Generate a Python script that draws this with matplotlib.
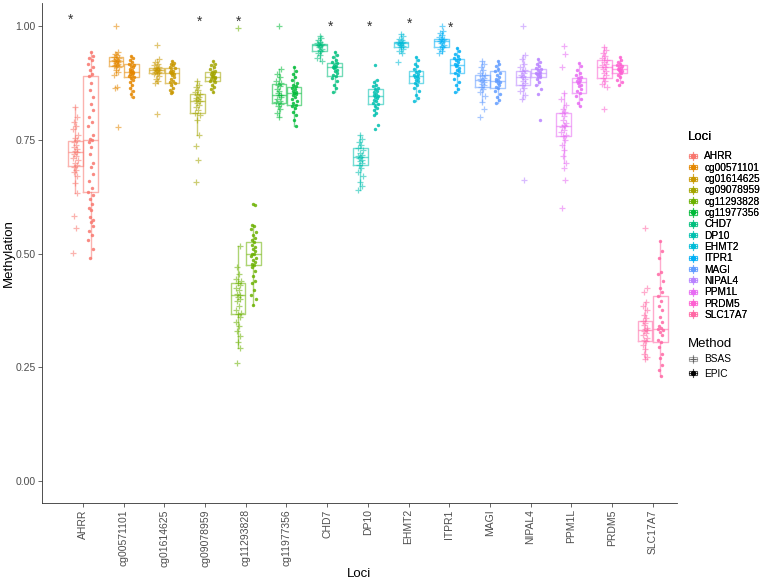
import numpy as np
import matplotlib
matplotlib.use("Agg")
import matplotlib.pyplot as plt
from matplotlib.legend_handler import HandlerBase
from matplotlib.lines import Line2D
from matplotlib.patches import Rectangle

plt.rcParams['font.family'] = ['Liberation Sans', 'DejaVu Sans']

# -------------------------------
# Dati
# -------------------------------
loci = ['AHRR', 'cg00571101', 'cg01614625', 'cg09078959', 'cg11293828',
        'cg11977356', 'CHD7', 'DP10', 'EHMT2', 'ITPR1', 'MAGI', 'NIPAL4',
        'PPM1L', 'PRDM5', 'SLC17A7']
methods = ['BSAS', 'EPIC']
colori = ['#F8766D', '#E58700', '#C99800', '#A3A500', '#6BB100', '#00BA38',
          '#00BF7D', '#00C0AF', '#00BCD8', '#00B0F6', '#619CFF', '#B983FF',
          '#E76BF3', '#FD61D1', '#FF67A4']

# box stats (q1, mediana, q3, baffo basso, baffo alto) per locus
bsas_q1 = [0.693, 0.913, 0.897, 0.809, 0.367, 0.831, 0.946, 0.695, 0.954, 0.954, 0.867, 0.871, 0.759, 0.886, 0.308]
bsas_med = [0.724, 0.924, 0.904, 0.836, 0.409, 0.849, 0.959, 0.713, 0.963, 0.968, 0.882, 0.888, 0.781, 0.910, 0.332]
bsas_q3 = [0.748, 0.932, 0.908, 0.851, 0.435, 0.873, 0.961, 0.732, 0.965, 0.972, 0.893, 0.902, 0.809, 0.926, 0.352]
bsas_lo = [0.633, 0.893, 0.875, 0.761, 0.292, 0.800, 0.924, 0.640, 0.941, 0.941, 0.834, 0.840, 0.700, 0.867, 0.268]
bsas_hi = [0.823, 0.943, 0.928, 0.880, 0.517, 0.906, 0.979, 0.761, 0.983, 0.990, 0.924, 0.937, 0.853, 0.955, 0.394]

epic_q1 = [0.636, 0.888, 0.875, 0.880, 0.475, 0.827, 0.891, 0.829, 0.875, 0.897, 0.864, 0.888, 0.853, 0.897, 0.306]
epic_med = [0.750, 0.900, 0.897, 0.888, 0.499, 0.853, 0.910, 0.847, 0.891, 0.915, 0.880, 0.897, 0.877, 0.906, 0.334]
epic_q3 = [0.891, 0.917, 0.908, 0.899, 0.526, 0.867, 0.919, 0.862, 0.902, 0.928, 0.902, 0.906, 0.886, 0.915, 0.407]
epic_lo = [0.490, 0.844, 0.853, 0.856, 0.387, 0.781, 0.855, 0.805, 0.836, 0.856, 0.831, 0.871, 0.825, 0.871, 0.231]
epic_hi = [0.943, 0.935, 0.924, 0.924, 0.563, 0.910, 0.943, 0.882, 0.932, 0.952, 0.924, 0.928, 0.919, 0.932, 0.528]

# valori dei singoli campioni
bsas_punti = [
    [0.823, 0.80, 0.79, 0.78, 0.775, 0.76, 0.755, 0.75, 0.745, 0.74, 0.735, 0.73, 0.725, 0.724, 0.72,
     0.715, 0.71, 0.705, 0.70, 0.695, 0.69, 0.685, 0.68, 0.67, 0.655, 0.633, 0.583, 0.556, 0.501],
    [1.0, 0.943, 0.94, 0.936, 0.932, 0.93, 0.928, 0.926, 0.925, 0.924, 0.923, 0.922, 0.92, 0.918,
     0.916, 0.914, 0.913, 0.91, 0.905, 0.90, 0.893, 0.867, 0.864, 0.779],
    [0.959, 0.928, 0.922, 0.918, 0.914, 0.91, 0.908, 0.907, 0.906, 0.905, 0.904, 0.903, 0.902, 0.90,
     0.899, 0.897, 0.895, 0.89, 0.885, 0.88, 0.875, 0.807],
    [0.88, 0.872, 0.866, 0.86, 0.855, 0.851, 0.848, 0.845, 0.842, 0.84, 0.837, 0.835, 0.832, 0.828,
     0.822, 0.816, 0.81, 0.805, 0.795, 0.761, 0.737, 0.706, 0.658],
    [0.996, 0.517, 0.47, 0.455, 0.445, 0.44, 0.435, 0.43, 0.425, 0.42, 0.412, 0.41, 0.405, 0.40,
     0.395, 0.385, 0.375, 0.37, 0.367, 0.36, 0.35, 0.34, 0.33, 0.318, 0.305, 0.292, 0.259],
    [1.0, 0.906, 0.895, 0.888, 0.88, 0.875, 0.872, 0.868, 0.862, 0.858, 0.853, 0.85, 0.848, 0.845,
     0.84, 0.836, 0.833, 0.83, 0.825, 0.818, 0.81, 0.80],
    [0.979, 0.975, 0.97, 0.966, 0.963, 0.961, 0.96, 0.959, 0.958, 0.956, 0.954, 0.951, 0.948, 0.946,
     0.942, 0.937, 0.93, 0.924],
    [0.761, 0.752, 0.745, 0.738, 0.732, 0.728, 0.722, 0.718, 0.715, 0.713, 0.71, 0.707, 0.703, 0.70,
     0.695, 0.688, 0.68, 0.67, 0.658, 0.648, 0.64],
    [0.983, 0.978, 0.973, 0.969, 0.966, 0.965, 0.964, 0.963, 0.962, 0.96, 0.958, 0.956, 0.954, 0.95,
     0.946, 0.941, 0.922],
    [1.0, 0.99, 0.985, 0.98, 0.976, 0.973, 0.972, 0.97, 0.968, 0.966, 0.963, 0.96, 0.957, 0.954,
     0.95, 0.946, 0.941],
    [0.924, 0.918, 0.91, 0.903, 0.898, 0.893, 0.89, 0.887, 0.884, 0.882, 0.88, 0.877, 0.873, 0.87,
     0.867, 0.862, 0.855, 0.846, 0.834, 0.818, 0.80],
    [1.0, 0.937, 0.928, 0.918, 0.91, 0.905, 0.902, 0.898, 0.894, 0.89, 0.888, 0.885, 0.88, 0.876,
     0.871, 0.865, 0.857, 0.848, 0.84, 0.662],
    [0.957, 0.939, 0.91, 0.853, 0.84, 0.828, 0.818, 0.812, 0.809, 0.802, 0.795, 0.788, 0.783, 0.781,
     0.778, 0.772, 0.768, 0.762, 0.759, 0.75, 0.74, 0.728, 0.715, 0.70, 0.688, 0.662, 0.60],
    [0.955, 0.948, 0.942, 0.935, 0.93, 0.926, 0.922, 0.918, 0.914, 0.91, 0.907, 0.902, 0.897, 0.892,
     0.886, 0.88, 0.873, 0.867, 0.818],
    [0.556, 0.424, 0.416, 0.394, 0.385, 0.375, 0.365, 0.358, 0.352, 0.347, 0.342, 0.337, 0.334, 0.332,
     0.33, 0.326, 0.32, 0.315, 0.31, 0.308, 0.3, 0.29, 0.28, 0.272, 0.268],
]

epic_punti = [
    [0.943, 0.935, 0.93, 0.925, 0.918, 0.91, 0.905, 0.895, 0.89, 0.875, 0.86, 0.845, 0.83, 0.815, 0.80,
     0.79, 0.78, 0.76, 0.752, 0.75, 0.745, 0.735, 0.72, 0.70, 0.69, 0.675, 0.66, 0.645, 0.636, 0.63,
     0.62, 0.61, 0.60, 0.595, 0.58, 0.575, 0.57, 0.56, 0.55, 0.54, 0.53, 0.51, 0.49],
    [0.935, 0.93, 0.926, 0.922, 0.918, 0.916, 0.913, 0.91, 0.906, 0.903, 0.901, 0.90, 0.899, 0.897,
     0.895, 0.893, 0.89, 0.888, 0.886, 0.882, 0.878, 0.872, 0.865, 0.858, 0.851, 0.844],
    [0.924, 0.92, 0.917, 0.914, 0.91, 0.908, 0.905, 0.902, 0.90, 0.898, 0.897, 0.895, 0.892, 0.888,
     0.884, 0.88, 0.877, 0.875, 0.87, 0.865, 0.86, 0.856, 0.853],
    [0.924, 0.918, 0.914, 0.91, 0.906, 0.902, 0.899, 0.897, 0.895, 0.893, 0.891, 0.889, 0.888, 0.886,
     0.884, 0.882, 0.88, 0.877, 0.872, 0.867, 0.862, 0.856],
    [0.609, 0.606, 0.563, 0.56, 0.555, 0.548, 0.54, 0.535, 0.53, 0.526, 0.52, 0.515, 0.51, 0.505,
     0.50, 0.499, 0.495, 0.49, 0.487, 0.482, 0.478, 0.475, 0.47, 0.462, 0.45, 0.44, 0.435, 0.42,
     0.41, 0.40, 0.387],
    [0.91, 0.902, 0.895, 0.888, 0.882, 0.876, 0.872, 0.868, 0.865, 0.862, 0.858, 0.855, 0.853, 0.851,
     0.848, 0.845, 0.84, 0.836, 0.832, 0.828, 0.825, 0.82, 0.812, 0.805, 0.795, 0.781],
    [0.943, 0.938, 0.932, 0.926, 0.922, 0.919, 0.916, 0.913, 0.911, 0.91, 0.908, 0.905, 0.902, 0.898,
     0.894, 0.891, 0.886, 0.88, 0.872, 0.865, 0.855],
    [0.915, 0.882, 0.877, 0.872, 0.868, 0.864, 0.862, 0.858, 0.855, 0.852, 0.849, 0.847, 0.845, 0.842,
     0.838, 0.835, 0.831, 0.829, 0.825, 0.82, 0.815, 0.81, 0.805, 0.783, 0.774],
    [0.932, 0.925, 0.918, 0.912, 0.906, 0.902, 0.899, 0.896, 0.893, 0.891, 0.889, 0.886, 0.883, 0.879,
     0.875, 0.87, 0.864, 0.857, 0.85, 0.843, 0.836],
    [0.952, 0.945, 0.94, 0.935, 0.93, 0.928, 0.925, 0.921, 0.918, 0.915, 0.912, 0.909, 0.905, 0.901,
     0.897, 0.892, 0.885, 0.878, 0.87, 0.863, 0.856],
    [0.924, 0.918, 0.912, 0.906, 0.902, 0.898, 0.893, 0.888, 0.884, 0.881, 0.88, 0.878, 0.875, 0.871,
     0.867, 0.864, 0.858, 0.852, 0.845, 0.838, 0.831],
    [0.928, 0.922, 0.917, 0.912, 0.908, 0.906, 0.903, 0.90, 0.898, 0.897, 0.895, 0.893, 0.89, 0.888,
     0.884, 0.878, 0.871, 0.862, 0.851, 0.794],
    [0.919, 0.912, 0.905, 0.898, 0.892, 0.888, 0.886, 0.883, 0.88, 0.877, 0.875, 0.872, 0.868, 0.863,
     0.858, 0.853, 0.847, 0.84, 0.832, 0.825],
    [0.932, 0.927, 0.922, 0.918, 0.915, 0.913, 0.91, 0.908, 0.906, 0.905, 0.903, 0.901, 0.899, 0.897,
     0.893, 0.888, 0.882, 0.877, 0.871],
    [0.528, 0.505, 0.49, 0.46, 0.455, 0.44, 0.425, 0.415, 0.407, 0.395, 0.385, 0.375, 0.36, 0.35,
     0.34, 0.336, 0.334, 0.332, 0.328, 0.32, 0.31, 0.306, 0.295, 0.28, 0.27, 0.255, 0.245, 0.231],
]

# asterischi di significativita' (posizione x in unita' di categoria, y in metilazione)
stelle_x = [0.70, 3.85, 4.81, 7.09, 8.05, 9.03, 10.04]
stelle_y = [1.014, 1.011, 1.011, 1.000, 0.998, 1.005, 0.996]

# -------------------------------
# Plot
# -------------------------------
W, H = 769, 581
fig = plt.figure(figsize=(W / 100, H / 100), dpi=100)
ax = fig.add_axes([42 / W, 1 - 503 / H, (677 - 42) / W, 500 / H])

jitter = [0.0, 0.045, -0.035, 0.02, -0.06, 0.06, -0.015, 0.035, -0.045, 0.01, -0.025, 0.05]
dodge = 0.1875
larghezza = 0.36

for i, locus in enumerate(loci):
    c = colori[i]
    x0 = i + 1
    gruppi = [
        (x0 - dodge, bsas_q1[i], bsas_med[i], bsas_q3[i], bsas_lo[i], bsas_hi[i], bsas_punti[i], 'BSAS'),
        (x0 + dodge, epic_q1[i], epic_med[i], epic_q3[i], epic_lo[i], epic_hi[i], epic_punti[i], 'EPIC'),
    ]
    for pos, q1, med, q3, lo, hi, punti, metodo in gruppi:
        stats = [dict(med=med, q1=q1, q3=q3, whislo=lo, whishi=hi, fliers=[])]
        lp = dict(color=c, alpha=0.55, lw=1.0)
        ax.bxp(stats, positions=[pos], widths=larghezza, showfliers=False, showcaps=False,
               boxprops=lp, whiskerprops=lp, medianprops=lp, manage_ticks=False)
        xs = [pos + jitter[k % len(jitter)] for k in range(len(punti))]
        if metodo == 'BSAS':
            ax.scatter(xs, punti, marker='+', s=14, linewidths=0.9, color=c, alpha=0.55, zorder=3)
        else:
            ax.scatter(xs, punti, marker='o', s=6, linewidths=0, color=c, alpha=0.85, zorder=3)

for sx, sy in zip(stelle_x, stelle_y):
    ax.text(sx, sy, '*', ha='center', va='center', fontsize=10, color='#333333')

ax.set_xlim(-0.01, 15.6)
ax.set_ylim(-0.0484, 1.0513)
ax.set_xticks(range(1, len(loci) + 1))
ax.set_xticklabels(loci, rotation=90, va='top', ha='center')
ax.set_yticks([0, 0.25, 0.5, 0.75, 1.0])
ax.set_yticklabels(['0.00', '0.25', '0.50', '0.75', '1.00'])
ax.tick_params(axis='both', labelsize=7.5, colors='#4D4D4D', length=3, width=0.6, pad=1.5)
for s in ['top', 'right']:
    ax.spines[s].set_visible(False)
for s in ['left', 'bottom']:
    ax.spines[s].set_color('#333333')
    ax.spines[s].set_linewidth(0.6)
ax.set_xlabel('Loci', fontsize=9.5, labelpad=1)
ax.set_ylabel('Methylation', fontsize=9.5, labelpad=0.5)


# -------------------------------
# Legende stile ggplot
# -------------------------------
class BoxKey(HandlerBase):
    def create_artists(self, legend, orig_handle, xdescent, ydescent, width, height, fontsize, trans):
        c = orig_handle.get_color()
        a = orig_handle.get_alpha()
        m = orig_handle.get_marker()
        cx = width / 2 - xdescent
        cy = height / 2 - ydescent
        bw, bh = width * 0.8, height * 0.5
        out = [
            Line2D([cx, cx], [cy - height / 2, cy + height / 2], color=c, alpha=a, lw=0.8, transform=trans),
            Rectangle((cx - bw / 2, cy - bh / 2), bw, bh, fill=False, ec=c, alpha=a, lw=0.8, transform=trans),
            Line2D([cx - bw / 2, cx + bw / 2], [cy, cy], color=c, alpha=a, lw=0.8, transform=trans),
            Line2D([cx], [cy], marker=m, ms=3 if m == 'o' else 4, mew=0.8, color=c, alpha=min(1, a + 0.3),
                   lw=0, transform=trans),
        ]
        return out


h_loci = [Line2D([], [], color=c, alpha=0.55, marker='o') for c in colori]
h_met = [Line2D([], [], color='#555555', alpha=0.5, marker='+'),
         Line2D([], [], color='black', alpha=0.7, marker='o')]

leg1 = fig.legend(h_loci, loci, loc='upper left', bbox_to_anchor=(683 / W, 1 - 126 / H),
                  frameon=False, fontsize=7.3, title='Loci', title_fontsize=9.5,
                  handler_map={Line2D: BoxKey()}, handlelength=1.0, handleheight=0.85,
                  labelspacing=0.13, handletextpad=0.6, borderpad=0, alignment='left')
leg1._legend_box.sep = 6
leg2 = fig.legend(h_met, methods, loc='upper left', bbox_to_anchor=(683 / W, 1 - 333 / H),
                  frameon=False, fontsize=7.3, title='Method', title_fontsize=9.5,
                  handler_map={Line2D: BoxKey()}, handlelength=1.0, handleheight=0.85,
                  labelspacing=0.45, handletextpad=0.6, borderpad=0, alignment='left')
leg2._legend_box.sep = 3
fig.add_artist(leg1)

fig.savefig('out.png', dpi=100)
